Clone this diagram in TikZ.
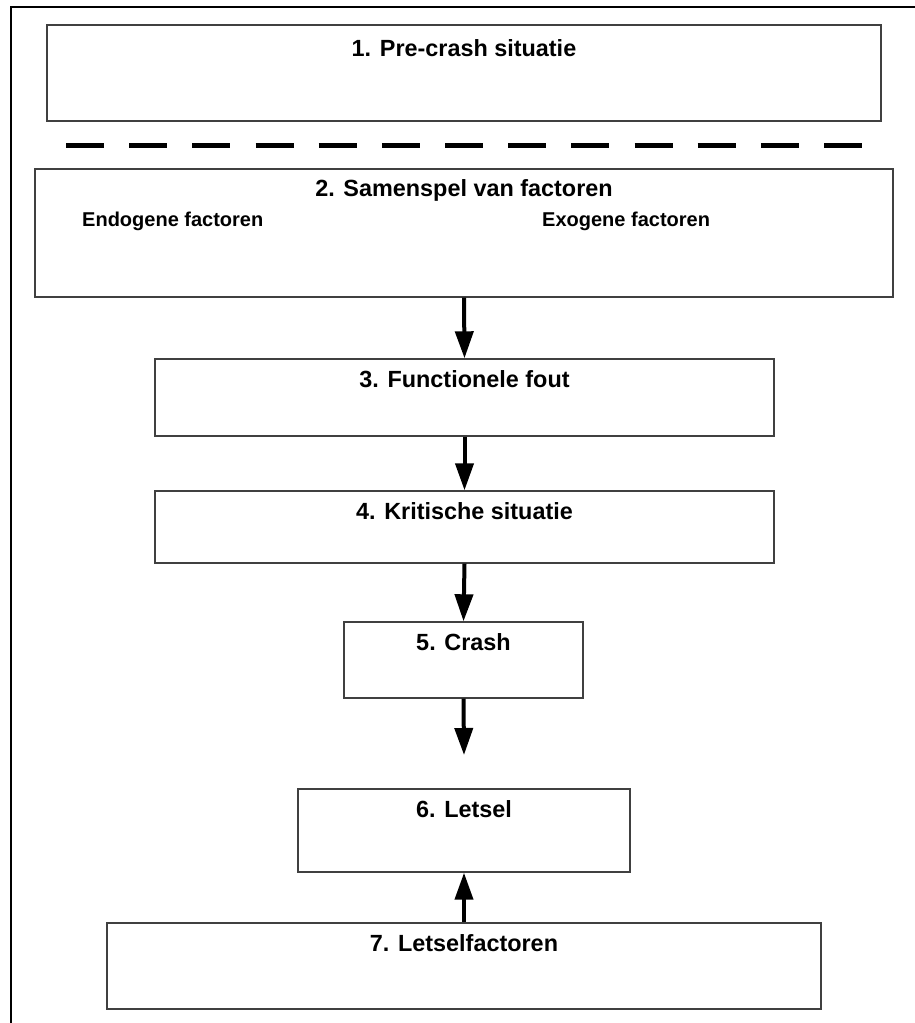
\documentclass[tikz,border=0pt]{standalone}
\usepackage{fontspec}
\setmainfont{Liberation Sans}
\usetikzlibrary{arrows.meta,positioning,calc}

\begin{document}
\begin{tikzpicture} [x=1pt, y=-1pt, > = {Triangle[length=27pt,width=18pt]}, line cap=butt]
            % Stijlen voor de blokken en teksten
            \tikzstyle{blok}=[rectangle, draw=black!75, line width=1.4pt, inner sep=0pt]
            \tikzstyle{titel}=[anchor=base, inner sep=0pt, font=\fontsize{23.4}{28}\selectfont\bfseries]
            \tikzstyle{sub}=[anchor=base west, inner sep=0pt, font=\fontsize{20}{24}\selectfont\bfseries]
            \tikzstyle{pijl}=[->, line width=4pt]

            \useasboundingbox (0,0) rectangle (915,1023);

            % Kader
            \draw[line width=2.5pt] (11,1023) -- (11,7) -- (915,7);

            % Blokken
            \node[blok, minimum width=834pt, minimum height=96pt] (b1) at (464,73) {};
            \node[blok, minimum width=858pt, minimum height=128pt] (b2) at (464,233) {};
            \node[blok, minimum width=619pt, minimum height=77pt] (b3) at (464.5,397.5) {};
            \node[blok, minimum width=619pt, minimum height=72pt] (b4) at (464.5,527) {};
            \node[blok, minimum width=239pt, minimum height=76pt] (b5) at (463.5,660) {};
            \node[blok, minimum width=332pt, minimum height=83pt] (b6) at (464,830.5) {};
            \node[blok, minimum width=714pt, minimum height=86pt] (b7) at (464,966) {};
            \coordinate (e5) at (464,755);

            % Teksten
            \node[titel] (t1) at ([yshift=-32pt]b1.north) {1. Pre-crash situatie};
            \node[titel] (t2) at ([yshift=-28pt]b2.north) {2. Samenspel van factoren};
            \node[sub] (endo) at (82,226) {Endogene factoren};
            \node[sub] (exo) at (542,226) {Exogene factoren};
            \node[titel] (t3) at ([yshift=-29pt]b3.north) {3. Functionele fout};
            \node[titel] (t4) at ([yshift=-29pt]b4.north) {4. Kritische situatie};
            \node[titel] (t5) at ([yshift=-29pt]b5.north) {5. Crash};
            \node[titel] (t6) at ([yshift=-29pt]b6.north) {6. Letsel};
            \node[titel] (t7) at ([yshift=-29pt]b7.north) {7. Letselfactoren};

            % Scheidingslijn
            \coordinate (s1) at (66,145);
            \coordinate (s2) at (862,145);
            \draw[line width=5pt, dash pattern=on 38pt off 25.17pt] (s1) -- (s2);

            % Pijlen
            \draw[pijl] (b2.south) -- (b3.north);
            \draw[pijl] (b3.south) -- (b4.north);
            \draw[pijl] (b4.south) -- (b5.north);
            \draw[pijl] (b5.south) -- (e5);
            \draw[pijl] (b7.north) -- (b6.south);
        \end{tikzpicture}
\end{document}
